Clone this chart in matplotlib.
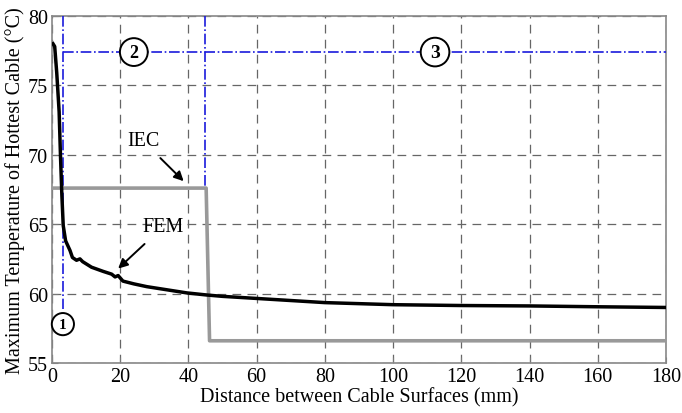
import matplotlib.pyplot as plt

plt.rcParams['font.family'] = ['Liberation Serif', 'DejaVu Serif']

# FEM result
fem_x = [0.3, 0.8, 1.4, 2.1, 2.5, 2.9, 3.3, 4.0, 5.3, 6.0, 7.2, 8.2, 9.0, 11.6,
         15.0, 17.5, 18.5, 19.4, 20.8, 24.0, 27.8, 33.0, 39.5, 45.3, 50.0, 60.0,
         70.0, 80.0, 100.0, 120.0, 140.0, 160.0, 180.0]
fem_y = [78.0, 77.8, 75.9, 73.1, 69.9, 67.1, 64.9, 63.8, 63.1, 62.6, 62.4, 62.5,
         62.3, 61.9, 61.6, 61.4, 61.2, 61.3, 60.9, 60.7, 60.5, 60.3, 60.05, 59.9,
         59.8, 59.65, 59.5, 59.35, 59.2, 59.14, 59.11, 59.05, 59.0]

# IEC step curve
iec_x = [0.0, 45.2, 46.2, 180.0]
iec_y = [67.6, 67.6, 56.6, 56.6]

# region boundaries (blue dash-dot)
b1_x = [3.2, 3.2]
b1_y = [80.0, 58.9]
b2_x = [3.2, 180.0]
b2_y = [77.4, 77.4]
b3_x = [44.8, 44.8]
b3_y = [80.0, 67.6]

regions = ['1', '2', '3']
region_x = [3.2, 24.0, 112.3]
region_y = [57.8, 77.4, 77.4]
region_size = [11, 13, 14]

xticks = list(range(0, 181, 20))
yticks = list(range(55, 81, 5))

fig = plt.figure(figsize=(6.82, 4.14), dpi=100)
ax = fig.add_axes([0.0762, 0.1208, 0.9003, 0.8382])

blue = '#1a1adc'
ax.plot(b1_x, b1_y, color=blue, ls='-.', lw=1.2, zorder=3)
ax.plot(b2_x, b2_y, color=blue, ls='-.', lw=1.2, zorder=3)
ax.plot(b3_x, b3_y, color=blue, ls='-.', lw=1.2, zorder=3)

ax.plot(iec_x, iec_y, color='#999999', lw=2.6, zorder=4)
ax.plot(fem_x, fem_y, color='black', lw=2.5, zorder=5)

for lab, x, y, s in zip(regions, region_x, region_y, region_size):
    ax.text(x, y, lab, ha='center', va='center', fontsize=s, fontweight='bold',
            zorder=6,
            bbox=dict(boxstyle='circle,pad=0.3', fc='white', ec='black', lw=1.4))

ax.annotate('IEC', xy=(38.6, 68.1), xytext=(26.7, 71.0), fontsize=14.5,
            ha='center', va='center', zorder=6,
            arrowprops=dict(arrowstyle='-|>', color='black', lw=1.4,
                            shrinkA=5, shrinkB=0, mutation_scale=14))
ax.annotate('FEM', xy=(19.4, 61.8), xytext=(32.5, 64.8), fontsize=14.5,
            ha='center', va='center', zorder=6,
            arrowprops=dict(arrowstyle='-|>', color='black', lw=1.4,
                            shrinkA=5, shrinkB=0, mutation_scale=14))

ax.set_xlim(0, 180)
ax.set_ylim(55, 80)
ax.set_xticks(xticks)
ax.set_yticks(yticks)
ax.tick_params(direction='in', length=4, labelsize=14.5, color='#777777', pad=3)
ax.grid(True, color='#666666', ls=(0, (7, 5)), lw=0.9)
for sp in ax.spines.values():
    sp.set_color('#888888')
    sp.set_linewidth(1.2)

ax.set_xlabel('Distance between Cable Surfaces (mm)', fontsize=14.5, labelpad=1)
ax.set_ylabel('Maximum Temperature of Hottest Cable (\u00b0C)', fontsize=14.5, labelpad=2)

fig.savefig('out.png', dpi=100)
